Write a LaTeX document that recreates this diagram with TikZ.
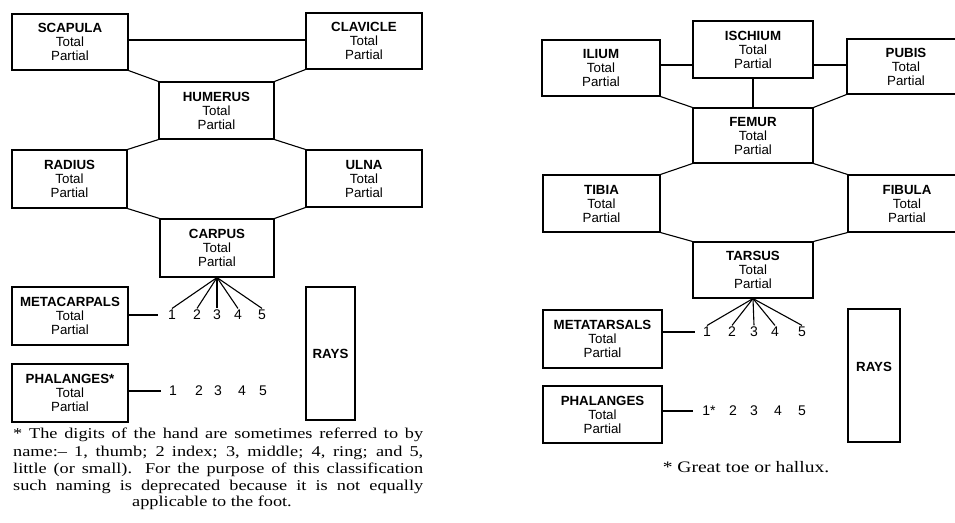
\documentclass[tikz,border=0pt]{standalone}
\usepackage{fontspec}
\setmainfont{Liberation Serif}
\newfontfamily\hv{Liberation Sans}
\newfontfamily\tms[FakeStretch=1.22]{Liberation Serif}
\begin{document}
\begin{tikzpicture}[x=1pt,y=-1pt,
  bx/.style={draw, line width=1.1pt, inner sep=0pt, align=center,
    font=\hv\fontsize{13.3}{14}\selectfont},
  dg/.style={inner sep=1.5pt, font=\hv\fontsize{14}{14}\selectfont},
  ln/.style={line width=1.1pt},
  fn/.style={inner sep=0pt, anchor=west, font=\tms\fontsize{15}{17}\selectfont}]
\useasboundingbox (0,0) rectangle (955,522);

% ---------- upper limb ----------
\node[bx, minimum width=116pt, minimum height=56pt] (scap) at (70,42) {\textbf{SCAPULA}\\Total\\Partial};
\node[bx, minimum width=116pt, minimum height=56pt] (clav) at (364,41) {\textbf{CLAVICLE}\\Total\\Partial};
\node[bx, minimum width=115pt, minimum height=57pt] (hum) at (216.5,110.5) {\textbf{HUMERUS}\\Total\\Partial};
\node[bx, minimum width=115pt, minimum height=58pt] (rad) at (69.5,179) {\textbf{RADIUS}\\Total\\Partial};
\node[bx, minimum width=116pt, minimum height=57pt] (ulna) at (364,178.5) {\textbf{ULNA}\\Total\\Partial};
\node[bx, minimum width=114pt, minimum height=58pt] (carp) at (217,248) {\textbf{CARPUS}\\Total\\Partial};
\node[bx, minimum width=116pt, minimum height=58pt] (meta) at (70,316) {\textbf{METACARPALS}\\Total\\Partial};
\node[bx, minimum width=49pt, minimum height=133pt] (rays) at (330.5,353.5) {\textbf{RAYS}};
\node[bx, minimum width=116pt, minimum height=58pt] (phal) at (70,393) {\textbf{PHALANGES*}\\Total\\Partial};

\node[dg] (m1) at (172,315) {1};
\node[dg] (m2) at (197,315) {2};
\node[dg] (m3) at (217,315) {3};
\node[dg] (m4) at (238,315) {4};
\node[dg] (m5) at (262,315) {5};

\node[dg] (p1) at (173,391) {1};
\node[dg] (p2) at (199,391) {2};
\node[dg] (p3) at (218,391) {3};
\node[dg] (p4) at (242,391) {4};
\node[dg] (p5) at (263,391) {5};

\draw[ln] (scap.east |- 0,40) -- (clav.west |- 0,40);
\draw[ln] (scap.south east) -- (hum.north west);
\draw[ln] (clav.south west) -- (hum.north east);
\draw[ln] (hum.south west) -- (rad.north east);
\draw[ln] (hum.south east) -- (ulna.north west);
\draw[ln] (rad.south east) -- (carp.north west);
\draw[ln] (ulna.south west) -- (carp.north east);
\foreach \d in {m1,m2,m3,m4,m5} \draw[ln] (carp.south) -- (\d.north);
\draw[ln, shorten >=8pt] (m1.west -| meta.east) -- (m1.west);
\draw[ln, shorten >=6pt] (p1.west -| phal.east) -- (p1.west);

\node[fn] (f1) at (13,435) {\makebox[410pt][s]{* The digits of the hand are sometimes referred to by}};
\node[fn] (f2) at (13,453) {\makebox[410pt][s]{name:– 1, thumb; 2 index; 3, middle; 4, ring; and 5,}};
\node[fn] (f3) at (13,470) {\makebox[410pt][s]{little (or small). For the purpose of this classification}};
\node[fn] (f4) at (13,487) {\makebox[410pt][s]{such naming is deprecated because it is not equally}};
\node[fn, anchor=center] (f5) at (212,503) {applicable to the foot.};

% ---------- lower limb ----------
\node[bx, minimum width=118pt, minimum height=56pt] (ilium) at (601,68) {\textbf{ILIUM}\\Total\\Partial};
\node[bx, minimum width=120pt, minimum height=57pt] (isch) at (753,49.5) {\textbf{ISCHIUM}\\Total\\Partial};
\node[bx, minimum width=118pt, minimum height=55pt] (pubis) at (906,66.5) {\textbf{PUBIS}\\Total\\Partial};
\node[bx, minimum width=120pt, minimum height=55pt] (femur) at (753,135.5) {\textbf{FEMUR}\\Total\\Partial};
\node[bx, minimum width=117pt, minimum height=57pt] (tibia) at (601.5,203.5) {\textbf{TIBIA}\\Total\\Partial};
\node[bx, minimum width=118pt, minimum height=57pt] (fibula) at (907,203.5) {\textbf{FIBULA}\\Total\\Partial};
\node[bx, minimum width=120pt, minimum height=56pt] (tars) at (753,270) {\textbf{TARSUS}\\Total\\Partial};
\node[bx, minimum width=119pt, minimum height=58pt] (metat) at (602.5,339) {\textbf{METATARSALS}\\Total\\Partial};
\node[bx, minimum width=52pt, minimum height=133pt] (rays2) at (874,375.5) {};
\node[inner sep=0pt, font=\hv\bfseries\fontsize{13.3}{14}\selectfont] (rayst) at (874,367) {RAYS};
\node[bx, minimum width=119pt, minimum height=57pt] (phal2) at (602.5,414.5) {\textbf{PHALANGES}\\Total\\Partial};

\node[dg] (t1) at (707,332) {1};
\node[dg] (t2) at (732,332) {2};
\node[dg] (t3) at (754,332) {3};
\node[dg] (t4) at (775,332) {4};
\node[dg] (t5) at (802,332) {5};

\node[dg] (q1) at (709,411) {1*};
\node[dg] (q2) at (733,411) {2};
\node[dg] (q3) at (754,411) {3};
\node[dg] (q4) at (778,411) {4};
\node[dg] (q5) at (802,411) {5};

\draw[ln] (ilium.east |- 0,65) -- (isch.west |- 0,65);
\draw[ln] (isch.east |- 0,65) -- (pubis.west |- 0,65);
\draw[ln] (isch.south) -- (femur.north);
\draw[ln] (ilium.south east) -- (femur.north west);
\draw[ln] (pubis.south west) -- (femur.north east);
\draw[ln] (femur.south west) -- (tibia.north east);
\draw[ln] (femur.south east) -- (fibula.north west);
\draw[ln] (tibia.south east) -- (tars.north west);
\draw[ln] (fibula.south west) -- (tars.north east);
\foreach \d in {t1,t2,t3,t4,t5} \draw[ln] (tars.south) -- (\d.north);
\draw[ln, shorten >=6pt] (t1.west -| metat.east) -- (t1.west);
\draw[ln, shorten >=8pt] (q1.west -| phal2.east) -- (q1.west);

\node[fn, anchor=center, font=\tms\fontsize{16}{17}\selectfont] (f6) at (746,467) {* Great toe or hallux.};
\end{tikzpicture}
\end{document}
